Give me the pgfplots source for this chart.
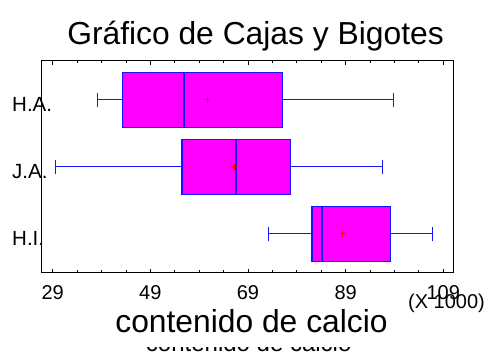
\documentclass[border=0pt]{standalone}
\usepackage{fontspec}
\setmainfont{Liberation Sans}
\usepackage{pgfplots}
\pgfplotsset{compat=1.18}
\usepgfplotslibrary{statistics}
\definecolor{boxfill}{RGB}{255,0,255}
\definecolor{boxedge}{RGB}{20,20,255}
\begin{document}
\begin{tikzpicture}
\path[use as bounding box] (0,0) rectangle (489bp,352bp);
\begin{axis}[
 at={(41.3bp,79.3bp)}, anchor=south west, scale only axis,
 width=412bp, height=212bp,
 xmin=26.67, xmax=111.05, ymin=0.42, ymax=3.587,
 xtick={29,49,69,89,109}, minor x tick num=3,
 ytick={1,2,3}, yticklabels={H.I.,J.A.,H.A.},
 y tick style={draw=none},
 major tick length=4bp, minor tick length=2.5bp,
 x tick style={black, line width=0.8pt},
 axis line style={line width=1.2pt},
 /pgf/number format/assume math mode=true,
 xticklabel style={font=\fontsize{20bp}{23bp}\selectfont, anchor=base, yshift=-27.3bp},
 yticklabel style={font=\fontsize{20.5bp}{24bp}\selectfont, anchor=base west, xshift=-29.3bp, yshift=-12bp, inner sep=0pt},
 boxplot/draw direction=x,
 boxplot/box extend=0.82,
 boxplot/whisker extend=0.22,
 boxplot/every median/.style={line width=1.6pt},
 boxplot/every whisker/.style={line width=1pt},
 boxplot/every box/.style={line width=1.3pt},
]
\addplot[draw=boxedge, fill=boxfill, boxplot prepared={lower whisker=38.2, lower quartile=43.25, median=55.9, upper quartile=76.1, upper whisker=98.9, draw position=3}] coordinates {};
\addplot[draw=boxedge, fill=boxfill, boxplot prepared={lower whisker=29.5, lower quartile=55.5, median=66.5, upper quartile=77.7, upper whisker=96.6, draw position=2}] coordinates {};
\addplot[draw=boxedge, fill=boxfill, boxplot prepared={lower whisker=73.2, lower quartile=82.1, median=84.1, upper quartile=98.25, upper whisker=106.85, draw position=1}] coordinates {};
\addplot[only marks, mark=+, red, mark size=3bp, line width=1pt] coordinates {(60.7,3) (66.2,2) (88.4,1)};
\end{axis}
\node[anchor=base, inner sep=0pt, font=\fontsize{31.8bp}{36bp}\selectfont] at (255.5bp,307bp) {Gráfico de Cajas y Bigotes};
\node[anchor=base, inner sep=0pt, font=\fontsize{24bp}{28bp}\selectfont] at (248.7bp,1bp) {contenido de calcio};
\fill[white] (0,4.5bp) rectangle (489bp,19bp);
\node[anchor=base, inner sep=0pt, font=\fontsize{31.8bp}{36bp}\selectfont] at (251.5bp,19.3bp) {contenido de calcio};
\node[anchor=base west, inner sep=0pt, font=\fontsize{20bp}{23bp}\selectfont] at (408bp,43.7bp) {(X 1000)};
\end{tikzpicture}
\end{document}
